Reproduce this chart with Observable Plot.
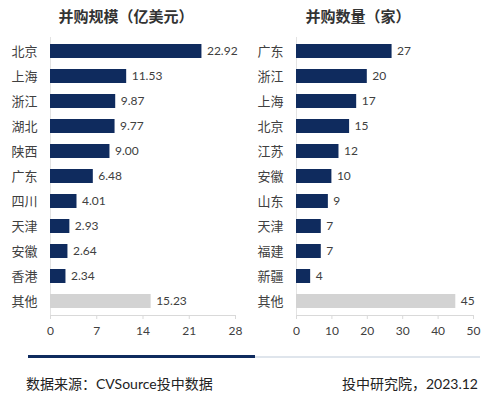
<!DOCTYPE html>
<html>
<head>
<meta charset="utf-8">
<script src="https://cdn.jsdelivr.net/npm/d3@7"></script>
<script src="https://cdn.jsdelivr.net/npm/@observablehq/plot@0.6"></script>
<style>
  html, body { margin: 0; padding: 0; background: #fff; }
  #wrap { position: relative; width: 491px; height: 396px; overflow: hidden; background: #fff;
          font-family: Lato, "Noto Sans CJK SC", sans-serif; color: #404040; }
  .panel { position: absolute; top: 0; }
  .title { position: absolute; top: 6px; font-size: 15px; font-weight: bold; color: #333; white-space: nowrap;
           font-family: "Noto Sans CJK SC", sans-serif; transform: translateX(-50%); line-height: 20px; }
  .foot { position: absolute; top: 374px; font-size: 14px; color: #222; white-space: nowrap; line-height: 20px; }
  .line1 { position: absolute; left: 28px; top: 355px; width: 227px; height: 3px; background: #0f2b5e; }
  .line2 { position: absolute; left: 255px; top: 356px; width: 225px; height: 2px; background: #dfe5ec; }
</style>
</head>
<body>
<div id="wrap">
  <div class="panel" id="left"></div>
  <div class="panel" id="right" style="left:250px"></div>
  <div class="title" style="left:126px">并购规模（亿美元）</div>
  <div class="title" style="left:358px">并购数量（家）</div>
  <div class="line1"></div>
  <div class="line2"></div>
  <div class="foot" style="left:26px">数据来源：CVSource投中数据</div>
  <div class="foot" style="right:13px">投中研究院，2023.12</div>
</div>
<script>
const leftCategories = ["北京", "上海", "浙江", "湖北", "陕西", "广东", "四川", "天津", "安徽", "香港", "其他"];
const leftValues = [22.92, 11.53, 9.87, 9.77, 9.00, 6.48, 4.01, 2.93, 2.64, 2.34, 15.23];
const leftTicks = [0, 7, 14, 21, 28];

const rightCategories = ["广东", "浙江", "上海", "北京", "江苏", "安徽", "山东", "天津", "福建", "新疆", "其他"];
const rightValues = [27, 20, 17, 15, 12, 10, 9, 7, 7, 4, 45];
const rightTicks = [0, 10, 20, 30, 40, 50];

const NAVY = "#0f2b5e";
const GRAY = "#d3d3d3";

function makeChart(cats, vals, ticks, domainMax, fmt, opts) {
  const data = cats.map((c, i) => ({cat: c, value: vals[i]}));
  return Plot.plot({
    width: opts.width,
    height: 345,
    marginLeft: opts.marginLeft,
    marginRight: opts.marginRight,
    marginTop: 37,
    marginBottom: 30,
    style: {fontFamily: 'Lato, "Noto Sans CJK SC", sans-serif', background: "transparent"},
    x: {domain: [0, domainMax], ticks: ticks},
    y: {domain: cats, paddingInner: 0.44, paddingOuter: 0.25},
    color: {type: "identity"},
    marks: [
      Plot.frame({anchor: "left", stroke: "#e3e3e3"}),
      Plot.barX(data, {x: "value", y: "cat", fill: d => d.cat === "其他" ? GRAY : NAVY}),
      Plot.text(data, {x: "value", y: "cat", text: d => fmt(d.value), dx: 5, textAnchor: "start",
                       fill: "#404040", fontSize: 12}),
      Plot.frame({anchor: "bottom", stroke: "#d9d9d9"}),
      Plot.axisX({ticks: ticks, tickSize: 4, tickPadding: 7, stroke: "#d9d9d9", fill: "#404040",
                  fontSize: 12, label: null}),
      Plot.axisY({tickSize: 0, tickPadding: 13, fill: "#404040", fontSize: 13, label: null,
                  fontFamily: '"Noto Sans CJK SC", sans-serif'})
    ]
  });
}

document.getElementById("left").appendChild(
  makeChart(leftCategories, leftValues, leftTicks, 28, v => v.toFixed(2),
            {width: 250, marginLeft: 50, marginRight: 15}));
document.getElementById("right").appendChild(
  makeChart(rightCategories, rightValues, rightTicks, 50, v => String(v),
            {width: 241, marginLeft: 46, marginRight: 18}));
</script>
</body>
</html>
